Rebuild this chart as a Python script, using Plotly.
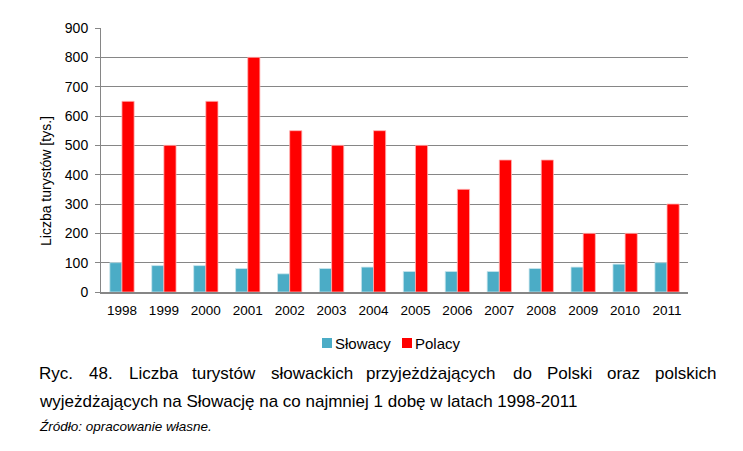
import plotly.graph_objects as go

years = ["1998", "1999", "2000", "2001", "2002", "2003", "2004", "2005", "2006", "2007", "2008", "2009", "2010", "2011"]
slowacy = [100, 90, 90, 80, 62, 80, 85, 70, 70, 70, 80, 85, 95, 100]
polacy = [650, 500, 650, 800, 550, 500, 550, 500, 350, 450, 450, 200, 200, 300]
y_ticks = [0, 100, 200, 300, 400, 500, 600, 700, 800, 900]
series_names = ["Słowacy", "Polacy"]
series_colors = ["#4BACC6", "#FF0000"]

caption_words = ["Ryc.", "48.", "Liczba", "turystów", "słowackich", "przyjeżdżających", "do", "Polski", "oraz", "polskich"]
caption_word_px = [37, 87, 127, 190, 269, 364, 511, 545, 605, 653]
caption_line2 = "wyjeżdżających na Słowację na co najmniej 1 dobę w latach 1998-2011"
source_text = "Źródło: opracowanie własne."
y_title = "Liczba turystów [tys.]"

W, H = 743, 451
L, R, T, B = 101, 688, 28, 292

def px(x):
    return (x - L) / (R - L)

def py(y):
    return (B - y) / (B - T)

FONT = "Liberation Sans, Arial, sans-serif"

fig = go.Figure()
fig.add_bar(x=years, y=slowacy, name=series_names[0], showlegend=False,
            marker=dict(color=series_colors[0], line=dict(color="#C9E6EE", width=0.8)))
fig.add_bar(x=years, y=polacy, name=series_names[1], showlegend=False,
            marker=dict(color=series_colors[1], line=dict(color="#FFB3B3", width=0.8)))

annotations = []
shapes = []
for w, x in zip(caption_words, caption_word_px):
    annotations.append(dict(text=w, x=px(x), y=py(373), xref="paper", yref="paper",
                            xanchor="left", yanchor="middle", showarrow=False,
                            font=dict(family=FONT, size=17, color="#000")))
annotations.append(dict(text=caption_line2, x=px(37), y=py(401), xref="paper", yref="paper",
                        xanchor="left", yanchor="middle", showarrow=False,
                        font=dict(family=FONT, size=17, color="#000")))
annotations.append(dict(text="<i>" + source_text + "</i>", x=px(37), y=py(427), xref="paper", yref="paper",
                        xanchor="left", yanchor="middle", showarrow=False,
                        font=dict(family=FONT, size=13.5, color="#000")))
annotations.append(dict(text=y_title, x=px(46), y=py(181), xref="paper", yref="paper",
                        xanchor="center", yanchor="middle", textangle=-90, showarrow=False,
                        font=dict(family=FONT, size=14, color="#000")))

# manual legend
legend_sq_px = [322, 402]
for name, color, sx in zip(series_names, series_colors, legend_sq_px):
    shapes.append(dict(type="rect", xref="paper", yref="paper",
                       x0=px(sx), x1=px(sx + 10), y0=py(348), y1=py(338),
                       fillcolor=color, line=dict(width=0)))
    annotations.append(dict(text=name, x=px(sx + 11), y=py(343), xref="paper", yref="paper",
                            xanchor="left", yanchor="middle", showarrow=False,
                            font=dict(family=FONT, size=15, color="#000")))

fig.update_layout(
    width=W, height=H,
    margin=dict(l=L, r=W - R, t=T, b=H - B, pad=0),
    paper_bgcolor="white", plot_bgcolor="white",
    barmode="group", bargap=0.42, bargroupgap=0.0,
    font=dict(family=FONT, size=13, color="#000"),
    showlegend=False,
    annotations=annotations,
    shapes=shapes,
    xaxis=dict(showline=True, linecolor="#868686", linewidth=1.5, ticks="", showgrid=False,
               tickfont=dict(size=13.5), ticklabelstandoff=5, fixedrange=True),
    yaxis=dict(range=[0, 900], tickvals=y_ticks, showline=True, linecolor="#868686", linewidth=1,
               gridcolor="#868686", gridwidth=1, ticks="outside", ticklen=5, tickcolor="#868686",
               zeroline=False, tickfont=dict(size=14), ticklabelstandoff=4),
)

fig.write_html("out.html")
